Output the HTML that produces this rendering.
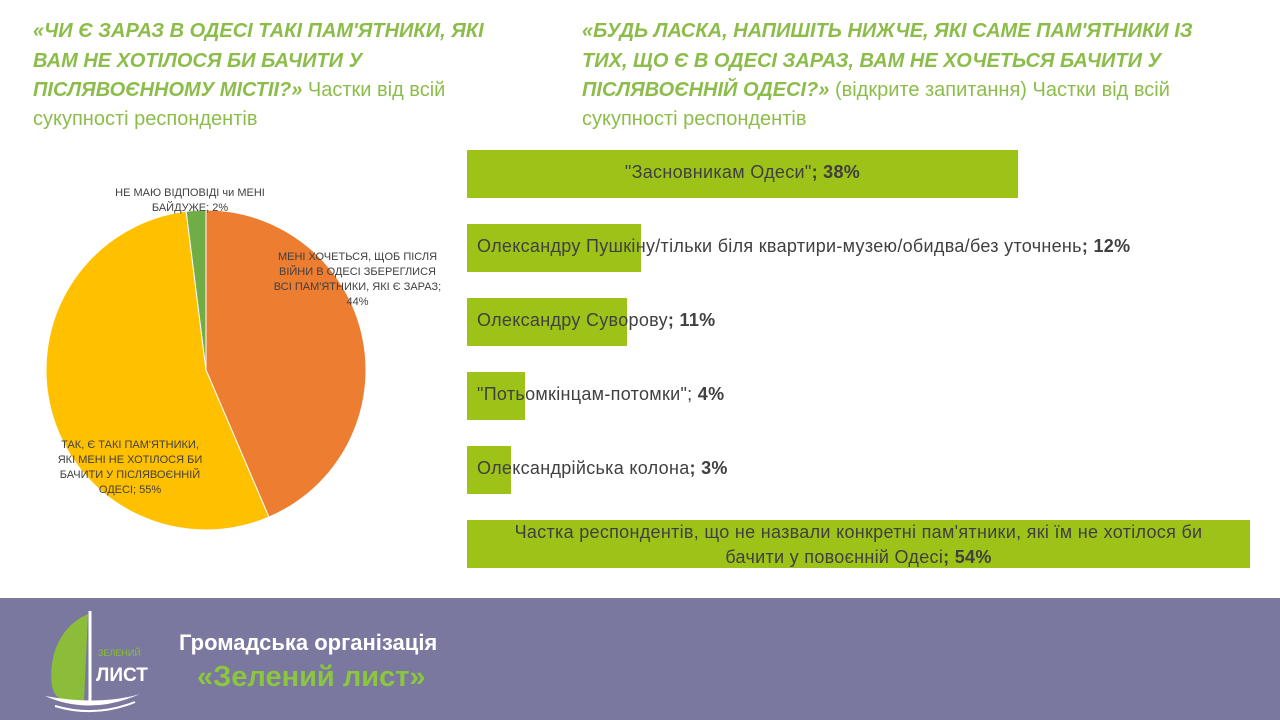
<!DOCTYPE html>
<html><head><meta charset="utf-8"><style>
body{margin:0;width:1280px;height:720px;background:#fff;position:relative;overflow:hidden;font-family:"Liberation Sans",sans-serif}
.t{position:absolute;color:#8cbd4a;font-size:20px;white-space:nowrap;letter-spacing:0px}
.t b{font-style:italic}
.bar{position:absolute;background:#9dc319}
.bl{position:absolute;font-size:18px;color:#404040;white-space:nowrap;letter-spacing:0.3px}
.pl{position:absolute;font-size:11px;color:#404040;text-align:center;line-height:15px}
</style></head><body>
<div>
<div class="t" style="left:33px;top:20px"><b>«ЧИ Є ЗАРАЗ В ОДЕСІ ТАКІ ПАМ'ЯТНИКИ, ЯКІ</b></div>
<div class="t" style="left:33px;top:50px"><b>ВАМ НЕ ХОТІЛОСЯ БИ БАЧИТИ У</b></div>
<div class="t" style="left:33px;top:79px"><b>ПІСЛЯВОЄННОМУ МІСТІІ?»</b> Частки від всій</div>
<div class="t" style="left:33px;top:108px">сукупності респондентів</div>
</div>
<div>
<div class="t" style="left:582px;top:20px"><b>«БУДЬ ЛАСКА, НАПИШІТЬ НИЖЧЕ,  ЯКІ САМЕ ПАМ'ЯТНИКИ ІЗ</b></div>
<div class="t" style="left:582px;top:50px"><b>ТИХ, ЩО Є В ОДЕСІ ЗАРАЗ, ВАМ НЕ ХОЧЕТЬСЯ БАЧИТИ У</b></div>
<div class="t" style="left:582px;top:79px"><b>ПІСЛЯВОЄННІЙ ОДЕСІ?»</b> (відкрите запитання) Частки від всій</div>
<div class="t" style="left:582px;top:108px">сукупності респондентів</div>
</div>
<svg id="pie" width="420" height="360" style="position:absolute;left:0;top:180px"></svg>
<div class="pl" style="left:100px;top:186px;width:180px">НЕ МАЮ ВІДПОВІДІ чи МЕНІ<br>БАЙДУЖЕ;  2%</div>
<div class="pl" style="left:265px;top:250px;width:185px">МЕНІ ХОЧЕТЬСЯ, ЩОБ ПІСЛЯ<br>ВІЙНИ В ОДЕСІ ЗБЕРЕГЛИСЯ<br>ВСІ ПАМ'ЯТНИКИ,  ЯКІ Є ЗАРАЗ;<br>44%</div>
<div class="pl" style="left:35px;top:438px;width:190px">ТАК, Є ТАКІ ПАМ'ЯТНИКИ,<br>ЯКІ МЕНІ НЕ ХОТІЛОСЯ БИ<br>БАЧИТИ  У ПІСЛЯВОЄННІЙ<br>ОДЕСІ; 55%</div>
<div id="bars"></div>
<div style="position:absolute;left:0;top:598px;width:1280px;height:122px;background:#7a789f">
<svg width="110" height="110" style="position:absolute;left:40px;top:8px">
<path d="M48 8 C20 20 8 50 12 80 C14 90 20 95 30 95 L44 95 Z" fill="#8cbd3a"/>
<line x1="50" y1="5" x2="50" y2="95" stroke="#fff" stroke-width="3"/>
<path d="M5 90 Q50 110 100 88 Q60 100 5 90" fill="#fff"/>
<path d="M15 100 Q55 112 95 96" stroke="#fff" stroke-width="2" fill="none"/>
<text x="58" y="50" font-size="9" fill="#8cbd3a" font-family="Liberation Sans">ЗЕЛЕНИЙ</text>
<text x="56" y="75" font-size="19" fill="#fff" font-weight="bold" font-family="Liberation Sans">ЛИСТ</text>
</svg>
<div style="position:absolute;left:179px;top:32px;color:#fff;font-weight:bold;font-size:22px">Громадська організація</div>
<div style="position:absolute;left:197px;top:63px;color:#8cc63f;font-weight:bold;font-size:29px">«Зелений лист»</div>
</div>
<script>
const pieLabels=["Keep all","Yes, some","No answer"];
const pieValues=[44,55,2];
const pieColors=["#ed7d31","#ffc000","#70ad47"];
const svg=document.getElementById('pie');
const cx=206,cy=190,r=160;
let tot=pieValues.reduce((a,b)=>a+b,0),a0=0;
pieValues.forEach((v,i)=>{
 const a1=a0+v/tot*2*Math.PI;
 const x0=cx+r*Math.sin(a0),y0=cy-r*Math.cos(a0),x1=cx+r*Math.sin(a1),y1=cy-r*Math.cos(a1);
 const p=document.createElementNS('http://www.w3.org/2000/svg','path');
 p.setAttribute('d',`M${cx} ${cy}L${x0} ${y0}A${r} ${r} 0 ${a1-a0>Math.PI?1:0} 1 ${x1} ${y1}Z`);
 p.setAttribute('fill',pieColors[i]);p.setAttribute('stroke','#fff');p.setAttribute('stroke-width','1');
 
 
 svg.appendChild(p);a0=a1;
});
const barLabels=['"Засновникам  Одеси"','Олександру Пушкіну/тільки біля квартири-музею/обидва/без  уточнень','Олександру Суворову','"Потьомкінцам-потомки"; ','Олександрійська колона',''];
const barValues=[38,12,11,4,3,54];
const bx=467,scale=14.5,by0=150,step=74,bh=48;
const bars=document.getElementById('bars');
barValues.forEach((v,i)=>{
 const y=by0+i*step;
 const d=document.createElement('div');d.className='bar';
 
 
 d.style.left=bx+'px';d.style.top=y+'px';d.style.width=(v*scale)+'px';d.style.height=bh+'px';
 bars.appendChild(d);
 const l=document.createElement('div');l.className='bl';
 
 
 if(i===5){
  l.style.left=bx+'px';l.style.top=(y)+'px';l.style.lineHeight='25px';l.style.textAlign='center';l.style.width=(v*scale)+'px';
  l.innerHTML='Частка респондентів,  що не назвали конкретні пам\'ятники, які їм не хотілося би<br>бачити  у повоєнній  Одесі<b>; '+v+'%</b>';
 } else {
  l.style.top=(y+12)+'px';
  if(i===0){l.style.left=bx+'px';l.style.width=(v*scale)+'px';l.style.textAlign='center';}
  else l.style.left=(bx+10)+'px';
  l.innerHTML=barLabels[i]+'<b>'+(i===3?' ':'; ')+v+'%</b>';
 }
 bars.appendChild(l);
});
</script>
</body></html>
